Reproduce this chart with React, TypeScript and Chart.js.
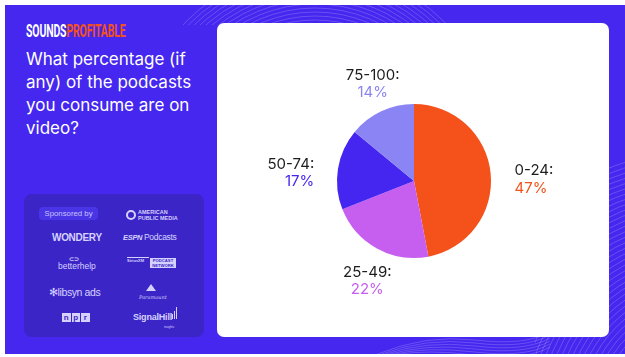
import React, { useEffect, useRef } from 'react';
import { Chart, registerables } from 'chart.js';

Chart.register(...registerables);

// ---- data ----
const categories = ['0-24', '25-49', '50-74', '75-100'];
const shares = [47, 22, 17, 14];
const sliceColors = ['#F4511B', '#C65EEF', '#4426F0', '#8A84F5'];
const titleLines = ['What percentage (if', 'any) of the podcasts', 'you consume are on', 'video?'];

const BG = '#4527EF';

const outLabelPlugin = {
  id: 'outLabels',
  afterDatasetsDraw(chart: any) {
    const ctx = chart.ctx;
    const meta = chart.getDatasetMeta(0);
    const ds = chart.data.datasets[0];
    const labels = chart.data.labels;
    meta.data.forEach((arc: any, i: number) => {
      const p = arc.getProps(['x', 'y', 'startAngle', 'endAngle', 'outerRadius'], true);
      const mid = (p.startAngle + p.endAngle) / 2;
      const c = Math.cos(mid);
      const s = Math.sin(mid);
      const horizontal = Math.abs(c) > 0.7;
      const r = p.outerRadius + (horizontal ? 24 : 20);
      const ax = p.x + c * r;
      const ay = p.y + s * r;
      const line1 = labels[i] + ':';
      const line2 = ds.data[i] + '%';
      ctx.save();
      ctx.font = '400 15px Inter, "Noto Sans", sans-serif';
      ctx.textBaseline = 'middle';
      let y1: number, y2: number;
      if (horizontal) {
        ctx.textAlign = c > 0 ? 'left' : 'right';
        y1 = ay - 1;
        y2 = ay + 16.5;
      } else {
        ctx.textAlign = 'center';
        if (s < 0) {
          y2 = ay - 1;
          y1 = y2 - 17;
        } else {
          y1 = ay + 6;
          y2 = y1 + 17;
        }
      }
      ctx.fillStyle = '#1d1d1f';
      ctx.fillText(line1, ax, y1);
      ctx.fillStyle = ds.backgroundColor[i];
      ctx.fillText(line2, ax, y2);
      ctx.restore();
    });
  },
};

function PieChart() {
  const ref = useRef<HTMLCanvasElement | null>(null);
  useEffect(() => {
    if (!ref.current) return;
    const chart = new Chart(ref.current, {
      type: 'pie',
      data: {
        labels: categories,
        datasets: [
          {
            data: shares,
            backgroundColor: sliceColors,
            borderWidth: 0,
          },
        ],
      },
      options: {
        responsive: false,
        animation: false,
        layout: { padding: { left: 81, right: 79, top: 81, bottom: 79 } },
        plugins: {
          legend: { display: false },
          tooltip: { enabled: false },
        },
      },
      plugins: [outLabelPlugin],
    });
    return () => chart.destroy();
  }, []);
  return <canvas ref={ref} width={392} height={314} style={{ display: 'block' }} />;
}

const logoColor = '#d6d2ff';
const abs = (l: number, t: number, extra: React.CSSProperties = {}): React.CSSProperties => ({
  position: 'absolute',
  left: l,
  top: t,
  ...extra,
});

function Decor() {
  // svg coordinates are offset by 5px from page coordinates
  const ringsBR: number[] = [];
  for (let r = 95; r <= 265; r += 5) ringsBR.push(r);
  const ringsTop: number[] = [];
  for (let r = 130; r <= 182; r += 4) ringsTop.push(r);
  const waves: number[] = [];
  for (let k = 0; k < 6; k++) waves.push(333 + k * 3);
  const stroke = 'rgba(255,255,255,0.24)';
  return (
    <svg width={620} height={349} style={{ position: 'absolute', left: 0, top: 0 }}>
      <defs>
        <clipPath id="topStrip">
          <rect x={150} y={0} width={320} height={20} />
        </clipPath>
        <clipPath id="brCorner">
          <rect x={530} y={150} width={90} height={200} />
        </clipPath>
        <clipPath id="bStrip">
          <rect x={365} y={330} width={180} height={20} />
        </clipPath>
      </defs>
      <g clipPath="url(#topStrip)">
        {ringsTop.map((r) => (
          <circle key={'t' + r} cx={310} cy={145} r={r} fill="none" stroke={stroke} strokeWidth={0.8} />
        ))}
      </g>
      <g clipPath="url(#brCorner)">
        {ringsBR.map((r) => (
          <circle key={'b' + r} cx={700} cy={410} r={r} fill="none" stroke={stroke} strokeWidth={0.8} />
        ))}
      </g>
      <g clipPath="url(#bStrip)">
        {waves.map((y, k) => (
          <path
            key={'w' + y}
            d={`M ${370 + k * 4} 350 Q ${420} ${y - 4} ${470} ${y + 2} T ${545} ${y - 6}`}
            fill="none"
            stroke={stroke}
            strokeWidth={0.8}
          />
        ))}
      </g>
    </svg>
  );
}

function Sponsors() {
  const f = '"Liberation Sans", Arial, sans-serif';
  return (
    <div
      style={abs(24, 194, {
        width: 180,
        height: 143,
        background: '#3B25C6',
        borderRadius: 8,
      })}
    >
      <div
        style={abs(15, 13, {
          width: 59,
          height: 13,
          background: '#4A35E6',
          borderRadius: 4,
          color: '#c9c3ff',
          font: `400 7.8px ${f}`,
          lineHeight: '13px',
          textAlign: 'center',
        })}
      >
        Sponsored by
      </div>
      {/* American Public Media */}
      <div style={abs(102, 16, { width: 6, height: 6, borderRadius: '50%', border: `2.5px solid ${logoColor}` })} />
      <div style={abs(114, 15, { color: logoColor, font: `700 5.5px ${f}`, lineHeight: '6px' })}>
        AMERICAN
        <br />
        PUBLIC MEDIA
      </div>
      {/* Wondery */}
      <div style={abs(28, 38, { color: logoColor, font: `700 10px ${f}`, letterSpacing: -0.3 })}>WONDERY</div>
      {/* ESPN Podcasts */}
      <div style={abs(99, 39, { color: logoColor, font: `900 italic 7.5px ${f}`, letterSpacing: -0.3 })}>ESPN</div>
      <div style={abs(120, 38, { color: logoColor, font: `400 8.5px ${f}`, letterSpacing: -0.3 })}>Podcasts</div>
      {/* betterhelp */}
      <div style={abs(45, 61, { color: logoColor, font: `700 6px ${f}` })}>⊂⊃</div>
      <div style={abs(34, 67, { color: logoColor, font: `500 8.5px ${f}` })}>betterhelp</div>
      {/* SiriusXM Podcast Network */}
      <div style={abs(103, 63, { width: 22, height: 6, borderTop: `1px solid ${logoColor}`, color: logoColor, font: `700 4px ${f}`, lineHeight: '6px' })}>
        SiriusXM
      </div>
      <div
        style={abs(126, 64, {
          width: 26,
          height: 10,
          background: logoColor,
          color: '#3B25C6',
          font: `700 4.2px ${f}`,
          lineHeight: '5px',
          textAlign: 'center',
        })}
      >
        PODCAST
        <br />
        NETWORK
      </div>
      {/* libsyn ads */}
      <div style={abs(25, 92, { color: logoColor, font: `400 10.5px ${f}`, letterSpacing: -0.4 })}>✻libsyn ads</div>
      {/* Paramount */}
      <div
        style={abs(122, 90, {
          width: 0,
          height: 0,
          borderLeft: '5px solid transparent',
          borderRight: '5px solid transparent',
          borderBottom: `7px solid ${logoColor}`,
        })}
      />
      <div style={abs(115, 100, { color: logoColor, font: `italic 400 5px "DejaVu Serif", serif` })}>Paramount</div>
      {/* npr */}
      <div style={abs(38, 119, { display: 'flex', gap: 1 })}>
        {['n', 'p', 'r'].map((ch) => (
          <div
            key={ch}
            style={{
              width: 8.5,
              height: 9,
              background: logoColor,
              color: '#3B25C6',
              font: `700 8px ${f}`,
              lineHeight: '9px',
              textAlign: 'center',
            }}
          >
            {ch}
          </div>
        ))}
      </div>
      {/* SignalHill */}
      <div style={abs(109, 118, { color: logoColor, font: `700 9px ${f}`, letterSpacing: -0.2 })}>SignalHill</div>
      <div style={abs(148, 113, { display: 'flex', alignItems: 'flex-end', gap: 1, height: 12 })}>
        {[5, 8, 12].map((h) => (
          <div key={h} style={{ width: 1, height: h, background: logoColor }} />
        ))}
      </div>
      <div style={abs(140, 131, { color: logoColor, font: `400 3px ${f}` })}>insights</div>
    </div>
  );
}

export default function App() {
  useEffect(() => {
    document.body.style.margin = '0';
    document.body.style.overflow = 'hidden';
  }, []);
  return (
    <div style={{ position: 'relative', width: 625, height: 357, background: '#ffffff', overflow: 'hidden' }}>
      <div style={abs(5, 5, { width: 620, height: 349, background: BG, overflow: 'hidden' })}>
        <Decor />
      </div>
      {/* logo */}
      <div
        style={abs(26, 20, {
          font: '700 18px Roboto, sans-serif',
          lineHeight: '22px',
          transform: 'scaleX(0.585)',
          transformOrigin: 'left top',
          whiteSpace: 'nowrap',
          letterSpacing: -0.3,
        })}
      >
        <span style={{ color: '#ffffff' }}>SOUNDS</span>
        <span style={{ color: '#F4511B' }}>PROFITABLE</span>
      </div>
      {/* title */}
      <div
        style={abs(26, 48, {
          color: '#ffffff',
          font: '400 17px Inter, "Noto Sans", sans-serif',
          lineHeight: '23px',
          whiteSpace: 'nowrap',
        })}
      >
        {titleLines.map((l) => (
          <div key={l}>{l}</div>
        ))}
      </div>
      <Sponsors />
      {/* chart card */}
      <div style={abs(217, 23, { width: 392, height: 314, background: '#ffffff', borderRadius: 7, overflow: 'hidden' })}>
        <PieChart />
      </div>
    </div>
  );
}
